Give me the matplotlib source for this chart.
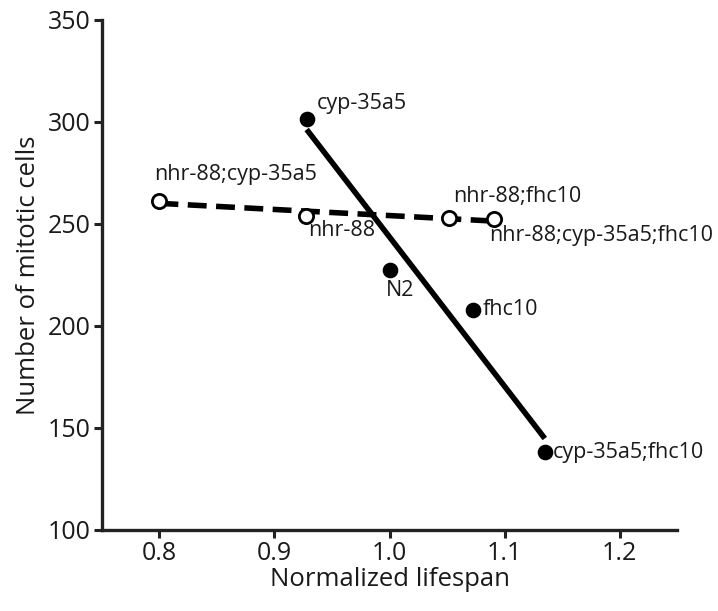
import numpy as np
import matplotlib
matplotlib.use("Agg")
import matplotlib.pyplot as plt

plt.rcParams['font.family'] = ['Open Sans', 'DejaVu Sans']

# filled points (solid regression line)
solid_names = ["cyp-35a5", "N2", "fhc10", "cyp-35a5;fhc10"]
solid_x = [0.928, 1.000, 1.073, 1.135]
solid_y = [301.5, 227.5, 208.0, 138.0]

# open points (dashed regression line)
open_names = ["nhr-88;cyp-35a5", "nhr-88", "nhr-88;fhc10", "nhr-88;cyp-35a5;fhc10"]
open_x = [0.800, 0.927, 1.052, 1.091]
open_y = [261.5, 253.8, 252.8, 252.3]

# label offsets in points (dx, dy)
solid_off = [(7, 11), (-2.5, -15), (6.5, 0), (6, 0)]
open_off = [(-3.5, 19), (1.5, -10), (2.5, 16), (-4, -12)]

fig = plt.figure(figsize=(7.18, 6.11), dpi=100)
ax = fig.add_axes([0.142, 0.1326, 0.801, 0.8347])

txt = '#1a1a1a'

# fitted lines over the range of each group
p = np.polyfit(solid_x, solid_y, 1)
xs = np.array([min(solid_x), max(solid_x)])
ax.plot(xs, np.polyval(p, xs), color='black', lw=4.0, solid_capstyle='butt', zorder=2)

p2 = np.polyfit(open_x, open_y, 1)
xo = np.array([min(open_x), max(open_x)])
ax.plot(xo, np.polyval(p2, xo), color='black', lw=4.0, ls=(0, (3.4, 1.7)),
        dash_capstyle='butt', zorder=2)

ax.scatter(solid_x, solid_y, s=105, color='black', zorder=3)
ax.scatter(open_x, open_y, s=105, facecolor='white', edgecolor='black', linewidth=2, zorder=3)

for n, x, y, (dx, dy) in zip(solid_names, solid_x, solid_y, solid_off):
    ax.annotate(n, (x, y), xytext=(dx, dy), textcoords='offset points',
                ha='left', va='center', fontsize=15.5, color=txt)
for n, x, y, (dx, dy) in zip(open_names, open_x, open_y, open_off):
    ax.annotate(n, (x, y), xytext=(dx, dy), textcoords='offset points',
                ha='left', va='center', fontsize=15.5, color=txt)

ax.set_xlim(0.75, 1.25)
ax.set_ylim(100, 350)
ax.set_xticks([0.8, 0.9, 1.0, 1.1, 1.2])
ax.set_xticklabels(["0.8", "0.9", "1.0", "1.1", "1.2"])
ax.set_yticks([100, 150, 200, 250, 300, 350])

for s in ['top', 'right']:
    ax.spines[s].set_visible(False)
for s in ['left', 'bottom']:
    ax.spines[s].set_linewidth(2.4)
    ax.spines[s].set_color('#222222')
ax.tick_params(width=2.2, length=6, color='#222222', labelsize=18, labelcolor=txt, pad=2)

ax.set_xlabel("Normalized lifespan", fontsize=18.5, color=txt, labelpad=1)
ax.set_ylabel("Number of mitotic cells", fontsize=18.5, color=txt, labelpad=5)

fig.savefig("out.png", dpi=100)
